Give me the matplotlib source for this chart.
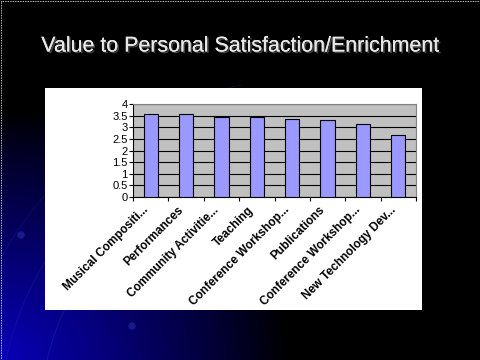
import numpy as np
import matplotlib
matplotlib.use("Agg")
import matplotlib.pyplot as plt
import matplotlib.patheffects as pe
from matplotlib.patches import Rectangle, Circle, Arc

categories = ["Musical Compositi...", "Performances", "Community Activitie...", "Teaching",
              "Conference Workshop...", "Publications", "Conference Workshop...",
              "New Technology Dev..."]
values = [3.58, 3.58, 3.44, 3.44, 3.35, 3.31, 3.15, 2.66]
yticks = [0, 0.5, 1, 1.5, 2, 2.5, 3, 3.5, 4]
title = "Value to Personal Satisfaction/Enrichment"

plt.rcParams['font.family'] = ['Liberation Sans', 'DejaVu Sans']

fig = plt.figure(figsize=(4.8, 3.6), dpi=100)
fig.patch.set_facecolor('black')

# background: dark slide with blue glow in the lower-left corner
bg = fig.add_axes([0, 0, 1, 1])
bg.set_xlim(0, 480)
bg.set_ylim(360, 0)
bg.axis('off')
xx, yy = np.meshgrid(np.arange(480), np.arange(360))
d = np.sqrt((xx / 1.15) ** 2 + ((360 - yy) * 1.0) ** 2)
glow = np.clip(1 - d / 250, 0, 1) ** 0.9
img = np.zeros((360, 480, 3))
img[..., 2] = 0.72 * glow
img[..., 0] = 0.03 * glow
bg.imshow(img, extent=(0, 480, 360, 0), aspect='auto', zorder=0)
for r, a in [(260, 0.35), (300, 0.25), (340, 0.2)]:
    bg.add_patch(Arc((300, 420), 2 * r, 2 * r, theta1=160, theta2=260,
                     color=(0.15, 0.2, 0.7), lw=0.8, alpha=a, zorder=1))
bg.add_patch(Circle((21, 235), 3, color=(0.1, 0.1, 0.55), zorder=1))
bg.add_patch(Circle((132, 326), 3, color=(0.1, 0.1, 0.55), zorder=1))
bg.add_patch(Rectangle((0.5, 0.5), 479, 359, fill=False, ec='white', lw=0.6,
                       ls=(0, (1, 1)), zorder=2))

# title with drop shadow
bg.text(240, 46, title, color='#e8e8e8', fontsize=15.4, ha='center', va='center', zorder=4,
        path_effects=[pe.withSimplePatchShadow(offset=(1.2, -1.2), shadow_rgbFace='#404040',
                                               alpha=1), pe.Normal()])

# white chart panel
bg.add_patch(Rectangle((45, 88), 377, 222, fc='white', ec='none', zorder=3))

ax = fig.add_axes([133 / 480, 1 - 197 / 360, 283 / 480, 93 / 360])
ax.set_facecolor('#c0c0c0')
x = np.arange(len(categories))
ax.bar(x, values, width=0.4, color='#9999ff', edgecolor='black', linewidth=0.8, zorder=3)
ax.set_xlim(-0.5, len(categories) - 0.5)
ax.set_ylim(0, 4)
ax.set_yticks(yticks)
ax.set_yticklabels([f"{v:g}" for v in yticks], fontsize=8)
ax.yaxis.grid(True, color='black', lw=0.8, zorder=1)
ax.set_axisbelow(True)

ax.set_xticks(np.arange(len(categories) + 1) - 0.5)
ax.set_xticklabels([])
ax.set_xticks(x - 0.25, minor=True)
ax.set_xticklabels(categories, minor=True, rotation=45, ha='right', va='top',
                   rotation_mode='anchor', fontsize=8.5, fontweight='bold')
ax.tick_params(axis='x', which='minor', length=0, pad=5)
ax.tick_params(axis='x', which='major', length=3, color='black')
ax.tick_params(axis='y', length=3, pad=1)
for s in ['top', 'right']:
    ax.spines[s].set_color('#808080')
    ax.spines[s].set_linewidth(0.8)
ax.spines['left'].set_linewidth(0.8)
ax.spines['bottom'].set_linewidth(0.8)

fig.savefig('out.png', dpi=100, facecolor='black')
